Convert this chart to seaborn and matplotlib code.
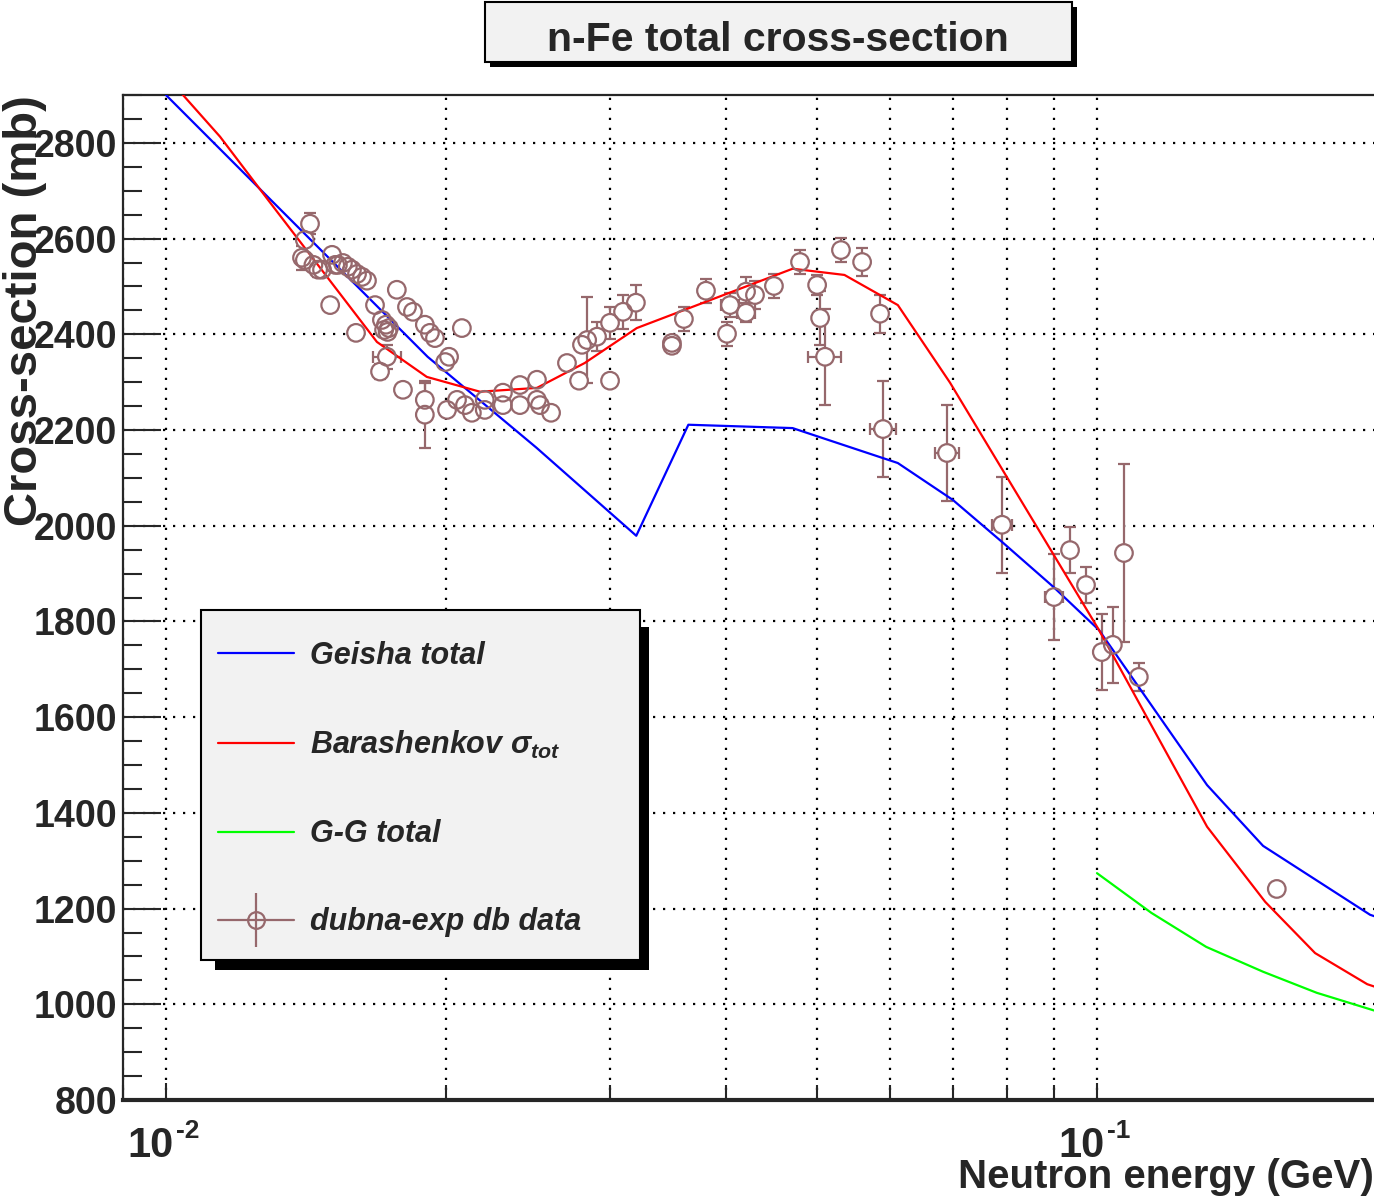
import numpy as np
import pandas as pd
import seaborn as sns
import matplotlib.pyplot as plt
from matplotlib.lines import Line2D
from matplotlib.patches import Rectangle
from matplotlib.ticker import FixedLocator, LogLocator, NullFormatter, MultipleLocator

# Geisha total (blue)
geisha_e = [0.0100, 0.0191, 0.0250, 0.0320, 0.0364, 0.0471, 0.0611, 0.0700,
            0.0793, 0.0898, 0.1005, 0.1313, 0.1508, 0.1965, 0.2000]
geisha_xs = [2900, 2353, 2163, 1979, 2211, 2204, 2131, 2054,
             1964, 1872, 1782, 1458, 1331, 1187, 1182]

# Barashenkov sigma_tot (red)
barash_e = [0.0100, 0.01143, 0.01287, 0.01685, 0.01906, 0.02174, 0.02503, 0.02817,
            0.03204, 0.04711, 0.05355, 0.06111, 0.06952, 0.1005, 0.1313, 0.1516,
            0.1715, 0.1951, 0.2000]
barash_xs = [2940, 2813, 2681, 2384, 2311, 2280, 2288, 2340,
             2413, 2537, 2524, 2461, 2299, 1782, 1371, 1214,
             1107, 1042, 1035]

# G-G total (green)
gg_e = [0.1000, 0.1144, 0.1310, 0.1508, 0.1722, 0.2000]
gg_xs = [1274, 1191, 1120, 1068, 1024, 985]

# dubna-exp db data
dubna_e = [0.01400, 0.01410, 0.01428, 0.01410, 0.01440, 0.01457, 0.01471, 0.01501,
           0.01508, 0.01520, 0.01530, 0.01549, 0.01568, 0.01584, 0.01604, 0.01624,
           0.01644, 0.01600, 0.01677, 0.01698, 0.01727, 0.01706, 0.01723, 0.01736,
           0.01715, 0.01730, 0.01770, 0.01815, 0.01842, 0.01797, 0.01897, 0.01921,
           0.01945, 0.01897, 0.01897, 0.02004, 0.02014, 0.01995, 0.02079, 0.02054,
           0.02095, 0.02131, 0.02200, 0.02200, 0.02301, 0.02301, 0.02400, 0.02400,
           0.02503, 0.02503, 0.02522, 0.02592, 0.02696, 0.02778, 0.02798, 0.02834,
           0.02904, 0.02999, 0.02999, 0.03097, 0.03197, 0.03495, 0.03495, 0.03600,
           0.03802, 0.04005, 0.04035, 0.04198, 0.04198, 0.04292, 0.04498, 0.04798,
           0.05005, 0.05042, 0.05104, 0.05309, 0.05594, 0.05848, 0.05891, 0.06901,
           0.07907, 0.08992, 0.09355, 0.09732, 0.1012, 0.1040, 0.1069, 0.1109, 0.1560]
dubna_xs = [2560, 2597, 2631, 2555, 2545, 2535, 2535, 2461,
            2566, 2545, 2545, 2549, 2541, 2535, 2526, 2520,
            2512, 2403, 2461, 2322, 2353, 2430, 2420, 2413,
            2409, 2405, 2493, 2457, 2447, 2284, 2420, 2403,
            2392, 2263, 2232, 2242, 2353, 2342, 2413, 2263,
            2252, 2236, 2263, 2242, 2278, 2252, 2294, 2252,
            2305, 2263, 2252, 2236, 2340, 2303, 2378, 2388,
            2395, 2424, 2303, 2447, 2466, 2382, 2376, 2432,
            2491, 2401, 2461, 2489, 2445, 2482, 2501, 2551,
            2503, 2434, 2353, 2576, 2551, 2443, 2202, 2152,
            2002, 1851, 1949, 1876, 1736, 1751, 1943, 1684, 1241]
dubna_dy = [25, 10, 22, 15, 10, 15, 10, 10,
            10, 10, 10, 10, 10, 10, 10, 10,
            10, 10, 10, 15, 25, 10, 10, 10,
            10, 10, 10, 10, 10, 10, 10, 10,
            10, 35, 70, 10, 10, 10, 10, 10,
            10, 10, 10, 10, 10, 10, 10, 10,
            10, 10, 10, 10, 10, 10, 10, 90,
            30, 33, 10, 35, 36, 15, 15, 25,
            25, 25, 25, 30, 20, 30, 25, 25,
            20, 56, 100, 25, 30, 40, 100, 100,
            100, 90, 48, 37, 79, 79, 185, 29, 0]
dubna_dx = [0] * 20 + [0.0006] + [0] * 45 + [0.0009, 0, 0.0009] + [0] * 5 + \
           [0.0021, 0, 0, 0, 0.0019, 0.0021, 0.0019, 0.0020] + [0] * 7

# x major ticks: base and exponent of each label
xtick_pos = [0.01, 0.1]
xtick_exp = ['-2', '-1']

W, H = 1374, 1204
blue, red, green, mauve = '#0000ff', '#ff0000', '#00ff00', '#96686c'

sns.set_style('ticks')
plt.rcParams['font.family'] = ['Liberation Sans', 'DejaVu Sans']
plt.rcParams['mathtext.fontset'] = 'custom'
plt.rcParams['mathtext.rm'] = 'Liberation Sans:weight=bold'
plt.rcParams['mathtext.bf'] = 'Liberation Sans:weight=bold'
plt.rcParams['mathtext.it'] = 'Liberation Sans:style=italic:weight=bold'

fig = plt.figure(figsize=(W / 100, H / 100), dpi=100)
ax = fig.add_axes([123 / W, 1 - 1100 / H, (W - 123) / W, (1100 - 95) / H])
ax.set_xscale('log')
ax.set_xlim(0.008992, 0.1984)
ax.set_ylim(800, 2900)

# grid
dots = (0, (1, 3.5))
ax.grid(True, which='both', axis='x', color='black', ls=dots, lw=1.6)
ax.grid(True, which='major', axis='y', color='black', ls=dots, lw=1.6)
ax.set_axisbelow(True)

# data: error bars, white fill, curves, hollow circles
ax.errorbar(dubna_e, dubna_xs, yerr=dubna_dy, xerr=dubna_dx, fmt='none',
            ecolor=mauve, elinewidth=1.6, capsize=4.5, capthick=1.6, zorder=2)
ax.scatter(dubna_e, dubna_xs, s=160, color='white', edgecolors='none', zorder=2.5)
sns.lineplot(x=geisha_e, y=geisha_xs, color=blue, lw=1.6, estimator=None, ax=ax, zorder=3)
sns.lineplot(x=barash_e, y=barash_xs, color=red, lw=1.6, estimator=None, ax=ax, zorder=3)
sns.lineplot(x=gg_e, y=gg_xs, color=green, lw=1.6, estimator=None, ax=ax, zorder=3)
sns.scatterplot(x=dubna_e, y=dubna_xs, s=160, facecolor='none', edgecolor=mauve,
                linewidth=1.6, ax=ax, zorder=4)

# axes styling
ax.xaxis.set_major_locator(FixedLocator(xtick_pos))
ax.xaxis.set_minor_locator(LogLocator(base=10, subs=range(2, 10)))
ax.xaxis.set_major_formatter(NullFormatter())
ax.xaxis.set_minor_formatter(NullFormatter())
ax.yaxis.set_major_locator(MultipleLocator(200))
ax.yaxis.set_minor_locator(MultipleLocator(50))
ax.tick_params(axis='y', which='major', direction='in', length=27, width=1.5,
               labelsize=27, pad=4)
ax.tick_params(axis='y', which='minor', direction='in', length=14, width=1.5)
ax.tick_params(axis='x', which='major', direction='in', length=12, width=1.5)
ax.tick_params(axis='x', which='minor', direction='in', length=11, width=1.5)
for lab in ax.get_yticklabels():
    lab.set_fontweight('bold')

# x tick labels as bold "10" with a bold superscript exponent
for pos, ex in zip(xtick_pos, xtick_exp):
    ax.annotate('10', xy=(pos, 0), xycoords=('data', 'axes fraction'),
                xytext=(-11, -19), textcoords='offset points', ha='center', va='top',
                fontsize=30, fontweight='bold', annotation_clip=False)
    ax.annotate(ex, xy=(pos, 0), xycoords=('data', 'axes fraction'),
                xytext=(7, -14), textcoords='offset points', ha='left', va='top',
                fontsize=19, fontweight='bold', annotation_clip=False)

ax.spines['right'].set_visible(False)
ax.spines['left'].set_linewidth(1.6)
ax.spines['top'].set_linewidth(1.6)
ax.spines['bottom'].set_linewidth(3)

ax.set_xlabel('Neutron energy (GeV)', fontsize=29, fontweight='bold', ha='right')
ax.xaxis.set_label_coords(1.0, -0.058)
ax.set_ylabel('Cross-section (mb)', fontsize=34, fontweight='bold', ha='right')
ax.yaxis.set_label_coords(-0.061, 1.0)


def px_rect(x0, y0, x1, y1, **kw):
    return Rectangle((x0 / W, 1 - y1 / H), (x1 - x0) / W, (y1 - y0) / H,
                     transform=fig.transFigure, **kw)


# title box
fig.add_artist(px_rect(490, 7, 1077, 67, facecolor='black', edgecolor='none', zorder=5))
fig.add_artist(px_rect(485, 2, 1072, 62, facecolor='#f2f2f2', edgecolor='black',
                       lw=1.5, zorder=6))
fig.text(778 / W, 1 - 51 / H, 'n-Fe total cross-section', ha='center', va='baseline',
         fontsize=29.5, fontweight='bold', zorder=7)

# legend box
fig.add_artist(px_rect(215, 627, 649, 970, facecolor='black', edgecolor='none', zorder=5))
fig.add_artist(px_rect(201, 610, 640, 960, facecolor='#f2f2f2', edgecolor='black',
                       lw=1.5, zorder=6))
handles = [
    Line2D([], [], color=blue, lw=1.6),
    Line2D([], [], color=red, lw=1.6),
    Line2D([], [], color=green, lw=1.6),
    (Line2D([], [], color=mauve, lw=1.6),
     Line2D([], [], ls='none', marker='|', ms=39, mew=1.6, color=mauve),
     Line2D([], [], ls='none', marker='o', ms=12, mfc='none', mec=mauve, mew=1.6)),
]
labels = ['Geisha total', r'Barashenkov σ$_{tot}$', 'G-G total', 'dubna-exp db data']
leg = fig.legend(handles, labels, loc='upper left', bbox_to_anchor=(218 / W, 1 - 641 / H),
                 bbox_transform=fig.transFigure, frameon=False, borderpad=0,
                 borderaxespad=0, handlelength=2.5, handletextpad=0.52,
                 labelspacing=1.9,
                 prop={'weight': 'bold', 'style': 'italic', 'size': 22})
leg.set_zorder(8)

fig.savefig('out.png', dpi=100)
